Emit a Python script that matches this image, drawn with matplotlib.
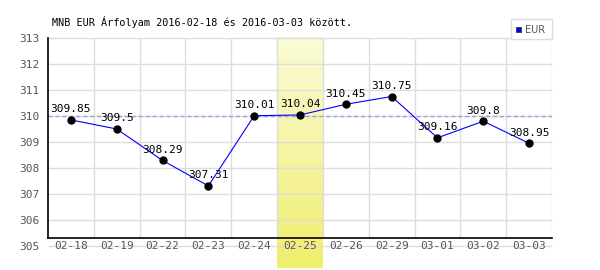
import numpy as np
import matplotlib
matplotlib.use('Agg')
import matplotlib.pyplot as plt
from matplotlib.colors import LinearSegmentedColormap
from matplotlib.patches import Rectangle

dates = ['02-18', '02-19', '02-22', '02-23', '02-24', '02-25',
         '02-26', '02-29', '03-01', '03-02', '03-03']
rates = [309.85, 309.5, 308.29, 307.31, 310.01, 310.04,
         310.45, 310.75, 309.16, 309.8, 308.95]
labels = ['309.85', '309.5', '308.29', '307.31', '310.01', '310.04',
          '310.45', '310.75', '309.16', '309.8', '308.95']
yticks = [305, 306, 307, 308, 309, 310, 311, 312, 313]
highlight = 5
ref_level = 310

plt.rcParams['font.family'] = 'DejaVu Sans Mono'

fig = plt.figure(figsize=(6, 2.7), dpi=100)
ax = fig.add_axes([48 / 600, 1 - 246 / 270, 504 / 600, 208 / 270])
ax.set_xlim(-0.5, len(dates) - 0.5)
ax.set_ylim(305, 313)

x = np.arange(len(dates))
ybase = 305 + 8 / 26   # where the black x-axis line sits
ylow = 305 - 22 / 26   # bottom of figure

# yellow highlight band with gradient
cmap = LinearSegmentedColormap.from_list('yel', ['#fbfbd8', '#f0ee6c'])
grad = np.linspace(0, 1, 256).reshape(-1, 1)
im = ax.imshow(grad, cmap=cmap, aspect='auto', origin='upper',
               extent=(highlight - 0.5, highlight + 0.5, ylow, 313), zorder=0)
im.set_clip_on(False)

# grid
ax.hlines(yticks, -0.5, len(dates) - 0.5, color='#dddddd', lw=1, zorder=1, clip_on=False)
ax.vlines(np.arange(len(dates)) + 0.5, ybase, 313, color='#dddddd', lw=1, zorder=1)
ax.axhline(ref_level, color='#a0a0e0', lw=1, ls=(0, (3, 2)), zorder=2)
ax.plot([-0.5, len(dates) - 0.5], [ybase, ybase], color='black', lw=1.2, zorder=3, clip_on=False)

for s in ['top', 'right', 'bottom']:
    ax.spines[s].set_visible(False)
ax.spines['left'].set_bounds(ybase, 313)
ax.spines['left'].set_linewidth(1.2)

ax.plot(x, rates, color='#0000ff', lw=0.8, zorder=4)
ax.plot(x, rates, 'o', color='black', ms=5, zorder=5)
for xi, yi, t in zip(x, rates, labels):
    ax.annotate(t, (xi, yi), xytext=(0, 4), textcoords='offset points',
                ha='center', va='bottom', fontsize=8, color='black', zorder=6)

ax.set_yticks(yticks)
ax.set_yticklabels([str(v) for v in yticks], color='#555555', fontsize=8)
ax.tick_params(axis='y', length=0, pad=6)
ax.set_xticks([])
for xi, d in zip(x, dates):
    ax.text(xi, 305, d, ha='center', va='center', fontsize=8, color='#555555', zorder=6)

fig.text(52 / 600, 1 - 22 / 270, 'MNB EUR Árfolyam 2016-02-18 és 2016-03-03 között.',
         fontsize=7.3, color='black', va='center')

# legend box
fig.patches.append(Rectangle((511 / 600, 1 - 39 / 270), 41 / 600, 20 / 270,
                             transform=fig.transFigure, facecolor='white',
                             edgecolor='#dddddd', lw=1))
fig.patches.append(Rectangle((516 / 600, 1 - 32 / 270), 5 / 600, 5 / 270,
                             transform=fig.transFigure, facecolor='#0000ff',
                             edgecolor='#333333', lw=0.6))
fig.text(525 / 600, 1 - 30 / 270, 'EUR', fontsize=7, color='#555555',
         family='DejaVu Sans', va='center')

fig.savefig('out.png', dpi=100)
